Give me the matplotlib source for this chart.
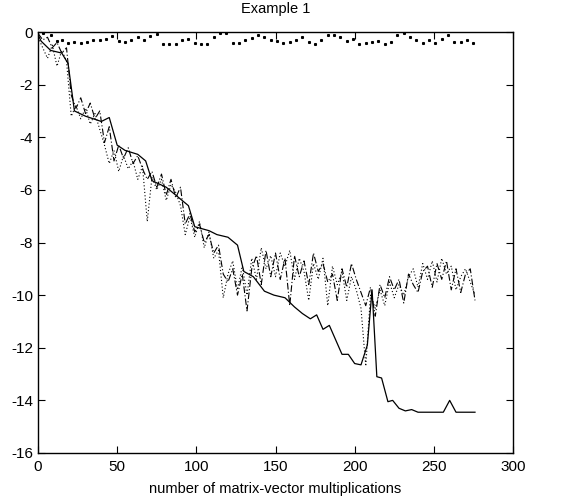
import numpy as np
import matplotlib
matplotlib.use("Agg")
import matplotlib.pyplot as plt

plt.rcParams['font.family'] = ['Liberation Sans', 'DejaVu Sans']

# solid line
solid_x = [0, 2, 8, 15, 19, 23, 30, 40, 45, 50, 55, 63, 68, 72, 81, 93, 95, 99, 108, 113,
           120, 126, 130, 136, 143, 149, 156, 162, 167, 172, 176, 180, 184, 192, 196, 200,
           204, 208, 211, 214, 217, 221, 224, 228, 232, 236, 240, 244, 256, 260, 264, 276]
solid_y = [-0.1, -0.35, -0.7, -0.8, -1.2, -3.0, -3.2, -3.4, -3.25, -4.3, -4.5, -4.65, -4.9,
           -5.65, -5.9, -6.5, -6.6, -7.4, -7.55, -7.7, -7.8, -8.1, -9.1, -9.3, -9.85, -10.0,
           -10.1, -10.45, -10.7, -10.9, -10.75, -11.3, -11.15, -12.25, -12.25, -12.6, -12.65,
           -11.9, -9.8, -13.1, -13.15, -14.05, -14.0, -14.3, -14.4, -14.35, -14.45, -14.45,
           -14.45, -14.0, -14.45, -14.45]

# dash-dot series (sampled every 3 multiplications)
dashdot_y = [-0.05, -0.3, -0.2, -0.6, -0.4, -0.8, -0.6, -2.4, -2.9, -2.5, -3.1, -2.7, -3.3,
             -3.0, -4.2, -3.6, -4.9, -4.3, -4.8, -4.4, -5.0, -4.7, -5.2, -5.6, -5.3, -5.9,
             -5.4, -6.2, -5.6, -6.3, -5.9, -7.3, -6.9, -7.6, -7.3, -8.0, -7.7, -8.4, -8.1,
             -9.2, -9.5, -9.0, -10.0, -9.2, -10.6, -9.0, -8.5, -9.6, -8.3, -9.3, -8.4, -9.4,
             -8.6, -10.4, -8.5, -9.3, -8.7, -9.6, -8.4, -9.1, -8.8, -9.5, -9.2, -10.2, -9.0,
             -9.7, -8.8, -9.4, -9.9, -10.4, -9.7, -10.8, -9.6, -10.1, -9.3, -9.8, -9.4, -10.3,
             -9.2, -9.6, -9.9, -9.1, -8.9, -9.7, -8.8, -9.4, -8.7, -9.8, -9.0, -9.9, -9.2,
             -9.0, -10.2]

# fine dotted series (sampled every 3 multiplications)
dotted_y = [-0.2, -0.6, -1.0, -0.5, -1.3, -0.7, -1.1, -3.2, -2.8, -3.3, -2.9, -3.5, -3.1,
            -3.7, -4.3, -5.0, -4.5, -5.3, -4.7, -5.2, -4.9, -5.6, -5.1, -7.2, -5.5, -6.0,
            -5.6, -6.4, -5.8, -6.1, -6.6, -7.7, -7.0, -7.8, -7.2, -8.2, -7.6, -8.6, -8.3,
            -10.1, -9.2, -8.7, -9.8, -8.9, -10.0, -8.6, -9.4, -8.2, -9.0, -8.5, -9.3, -8.4,
            -8.9, -8.3, -9.4, -8.6, -9.1, -10.2, -8.8, -9.4, -8.6, -10.4, -8.9, -9.6, -9.1,
            -10.2, -9.3, -9.8, -10.5, -12.7, -10.0, -10.5, -9.8, -10.4, -9.5, -10.1, -9.6,
            -10.0, -9.3, -9.0, -9.7, -8.8, -9.4, -8.7, -9.5, -8.6, -9.2, -8.9, -9.8, -9.3,
            -9.0, -9.5, -10.0]
step_x = 3

# sparse heavy dots near the top
top_x = [3, 8, 12, 15, 19, 23, 27, 31, 35, 39, 43, 47, 51, 55, 59, 63, 67, 71, 75, 79, 83,
         87, 91, 95, 99, 103, 107, 111, 115, 119, 123, 127, 131, 135, 139, 143, 147, 151,
         155, 159, 163, 167, 171, 175, 179, 183, 187, 191, 195, 199, 203, 207, 211, 215,
         219, 223, 227, 231, 235, 239, 243, 247, 251, 255, 259, 263, 267, 271, 275]
top_y = [-0.05, -0.1, -0.35, -0.3, -0.4, -0.38, -0.42, -0.38, -0.3, -0.32, -0.25, -0.15,
         -0.35, -0.38, -0.3, -0.2, -0.3, -0.15, -0.08, -0.45, -0.45, -0.45, -0.3, -0.25,
         -0.4, -0.45, -0.45, -0.2, -0.05, -0.02, -0.42, -0.4, -0.3, -0.22, -0.1, -0.2, -0.3,
         -0.35, -0.42, -0.38, -0.3, -0.2, -0.38, -0.45, -0.3, -0.1, -0.12, -0.2, -0.35,
         -0.25, -0.45, -0.4, -0.38, -0.35, -0.45, -0.38, -0.1, -0.05, -0.2, -0.3, -0.42,
         -0.3, -0.4, -0.25, -0.12, -0.38, -0.38, -0.32, -0.4]

xticks = [0, 50, 100, 150, 200, 250, 300]
yticks = [0, -2, -4, -6, -8, -10, -12, -14, -16]

fig = plt.figure(figsize=(5.76, 5.01), dpi=100)
ax = fig.add_axes([38/576, 1 - 453/501, (513-38)/576, (453-32)/501])

dd_x = np.arange(len(dashdot_y)) * step_x
dt_x = np.arange(len(dotted_y)) * step_x

ax.plot(solid_x, solid_y, color='black', lw=0.9)
ax.plot(dd_x, dashdot_y, color='black', lw=0.8, linestyle=(0, (6, 2, 1, 2)))
ax.plot(dt_x, dotted_y, color='black', lw=0.8, linestyle=(0, (1, 2)))
ax.plot(top_x, top_y, linestyle='none', marker='s', markersize=1.2, color='black')

ax.set_xlim(0, 300)
ax.set_ylim(-16, 0)
ax.set_xticks(xticks)
ax.set_yticks(yticks)
ax.set_yticklabels([str(v) for v in yticks])
ax.tick_params(direction='in', top=True, right=True, length=5, width=0.8, labelsize=11)
ax.tick_params(axis='x', pad=5)
for s in ax.spines.values():
    s.set_linewidth(1.0)
ax.set_title('Example 1', fontsize=10.5, pad=14)
ax.set_xlabel('number of matrix-vector multiplications', fontsize=10.5, labelpad=6)

fig.savefig('out.png', dpi=100)
